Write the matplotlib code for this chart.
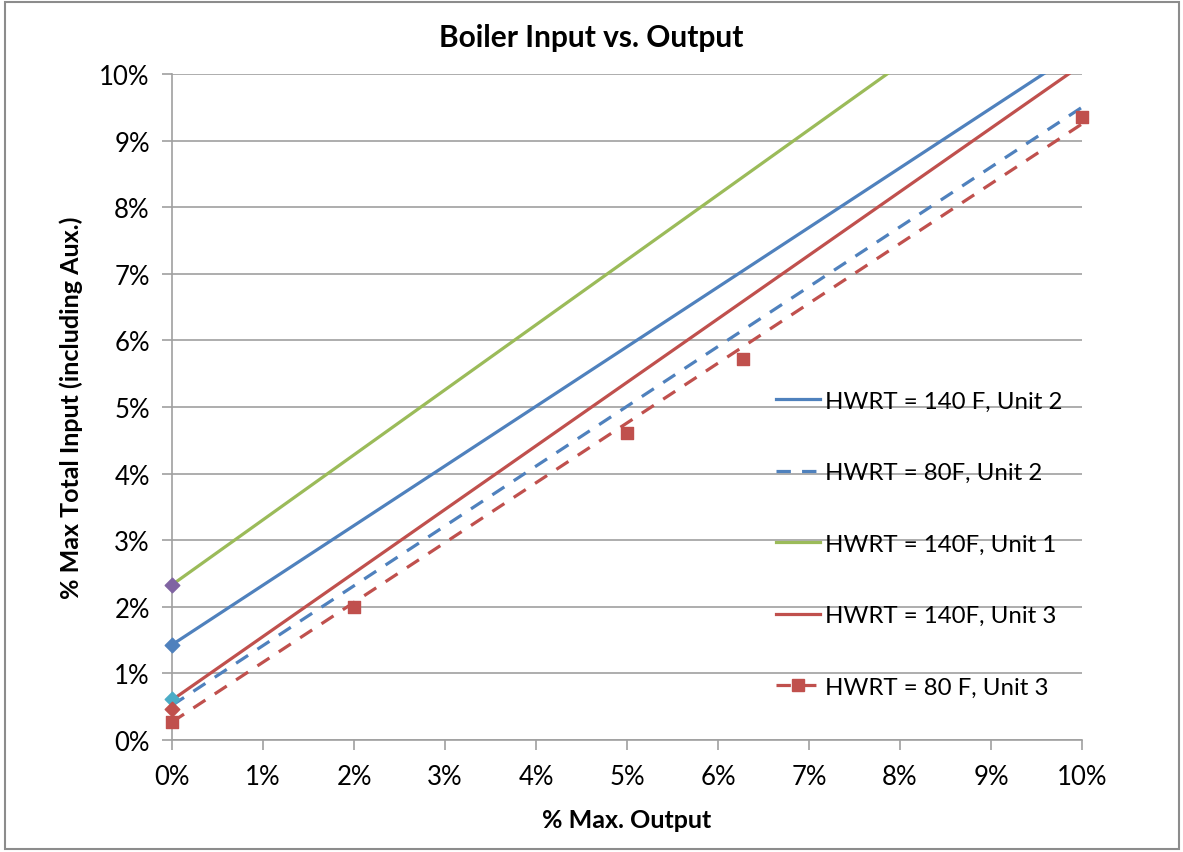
import matplotlib.pyplot as plt
from matplotlib.patches import Rectangle
from matplotlib.ticker import MultipleLocator, FuncFormatter

plt.rcParams['font.family'] = ['Lato', 'DejaVu Sans']

# trend lines, % max output -> % max total input (end points at 0% and 10%)
x_ends = [0, 10]
u2_140 = [1.43, 10.38]
u2_80 = [0.52, 9.50]
u1_140 = [2.33, 12.09]
u3_140 = [0.60, 10.14]
u3_80 = [0.27, 9.25]

# measured points for unit 3 at 80 F
u3_80_x = [0, 2, 5, 6.27, 10]
u3_80_y = [0.27, 2.0, 4.61, 5.72, 9.35]

# zero-load points (diamonds)
zero_y = [2.33, 1.43, 0.62, 0.47]
zero_colors = ['#8064A2', '#4F81BD', '#4BACC6', '#C0504D']

blue = '#4F81BD'
green = '#9BBB59'
red = '#C0504D'

fig = plt.figure(figsize=(11.83, 8.53), dpi=100)
ax = fig.add_axes([0.1454, 0.1313, 0.7692, 0.7808])

lw = 2.3
dash = (0, (4.5, 3.5))
ax.plot(x_ends, u2_140, color=blue, lw=lw, label='HWRT = 140 F, Unit 2')
ax.plot(x_ends, u2_80, color=blue, lw=lw, ls=dash, label='HWRT = 80F, Unit 2')
ax.plot(x_ends, u1_140, color=green, lw=lw, label='HWRT = 140F, Unit 1')
ax.plot(x_ends, u3_140, color=red, lw=lw, label='HWRT = 140F, Unit 3')
ax.plot(x_ends, u3_80, color=red, lw=lw, ls=dash)
ax.scatter(u3_80_x, u3_80_y, marker='s', s=70, color=red, zorder=4, clip_on=False)
for y, c in zip(zero_y, zero_colors):
    ax.scatter([0], [y], marker='D', s=55, color=c, zorder=5, clip_on=False)

# legend handle for the marker series
ax.plot([], [], color=red, lw=lw, ls=dash, marker='s', markersize=8,
        label='HWRT = 80 F, Unit 3')

ax.set_xlim(0, 10)
ax.set_ylim(0, 10)
ax.xaxis.set_major_locator(MultipleLocator(1))
ax.yaxis.set_major_locator(MultipleLocator(1))
pct = FuncFormatter(lambda v, p: f'{v:.0f}%')
ax.xaxis.set_major_formatter(pct)
ax.yaxis.set_major_formatter(pct)

ax.grid(axis='y', color='#A0A0A0', lw=1.2)
ax.set_axisbelow(True)
for s in ['top', 'right']:
    ax.spines[s].set_visible(False)
for s in ['left', 'bottom']:
    ax.spines[s].set_color('#A0A0A0')
    ax.spines[s].set_linewidth(1.2)
ax.tick_params(axis='both', length=7, width=1.2, color='#A0A0A0', labelsize=18.5)
ax.tick_params(axis='x', pad=10)
ax.tick_params(axis='y', pad=9)

fig.text(0.5, 0.955, 'Boiler Input vs. Output', fontsize=21.5, fontweight='bold',
         ha='center', va='center')
ax.set_xlabel('% Max. Output', fontsize=18, fontweight='bold', labelpad=14)
ax.set_ylabel('% Max Total Input (including Aux.)', fontsize=18,
              fontweight='bold', labelpad=12)

ax.legend(loc='upper left', bbox_to_anchor=(0.64, 0.557), frameon=False,
          fontsize=17.3, labelspacing=2.1, handlelength=1.85, handletextpad=0.2)

# chart border
fig.patches.append(Rectangle((0.004, 0.003), 0.993, 0.993, transform=fig.transFigure,
                             fill=False, edgecolor='#8C8C8C', lw=1.5))

fig.savefig('out.png', dpi=100)
